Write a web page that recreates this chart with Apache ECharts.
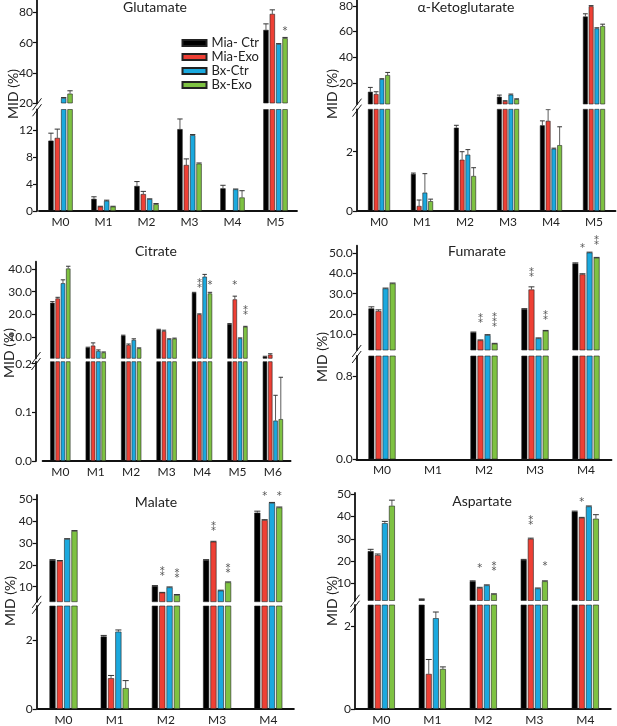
<!DOCTYPE html>
<html><head><meta charset="utf-8">
<script src="https://cdn.jsdelivr.net/npm/echarts@6/dist/echarts.min.js"></script>
<style>html,body{margin:0;padding:0;background:#fff}#c{width:617px;height:726px}</style>
</head><body><div id="c"></div>
<script>
const seriesNames = ['Mia- Ctr', 'Mia-Exo', 'Bx-Ctr', 'Bx-Exo'];
const seriesColors = ['#000000', '#EE4035', '#1BA9DE', '#7EC242'];

// ---------- Glutamate ----------
const gluCategories = ['M0', 'M1', 'M2', 'M3', 'M4', 'M5'];
const gluMiaCtr = [10.4, 1.8, 3.7, 12.1, 3.35, 68.5];
const gluMiaExo = [10.8, 0.65, 2.5, 6.8, null, 79.1];
const gluBxCtr = [23.3, 1.5, 1.75, 11.2, 3.2, 59.1];
const gluBxExo = [26.2, 0.65, 1.0, 7.0, 2.0, 63.0];
const gluMiaCtrErr = [11.5, 2.1, 4.35, 13.6, 3.8, 72.5];
const gluMiaExoErr = [12.1, 0.7, 2.9, 7.7, null, 81.8];
const gluBxCtrErr = [23.6, 1.6, 1.8, 11.3, 3.25, 59.4];
const gluBxExoErr = [28.1, 0.7, 1.1, 7.1, 3.0, 63.5];
const gluStars = [[5, 3, 69, '*']];
const gluUpperTicks = [20, 40, 60, 80];
const gluLowerTicks = [0, 4, 8, 12];

// ---------- alpha-Ketoglutarate ----------
const akgCategories = ['M0', 'M1', 'M2', 'M3', 'M4', 'M5'];
const akgMiaCtr = [13, 1.25, 2.81, 9.1, 2.89, 71.8];
const akgMiaExo = [11.2, 0.17, 1.73, 5.7, 3.04, 79.8];
const akgBxCtr = [22.9, 0.62, 1.9, 10.7, 2.1, 62.5];
const akgBxExo = [26, 0.33, 1.18, 7.2, 2.22, 64.3];
const akgMiaCtrErr = [16.4, 1.28, 2.89, 10.4, 3.04, 73.9];
const akgMiaExoErr = [13, 0.37, 2.0, 6.0, 3.42, 80.3];
const akgBxCtrErr = [23.2, 1.26, 2.07, 11.2, 2.12, 63];
const akgBxExoErr = [28.1, 0.4, 1.46, 7.5, 2.84, 65.8];
const akgStars = [];
const akgUpperTicks = [20, 40, 60, 80];
const akgLowerTicks = [0, 2];

// ---------- Citrate ----------
const citCategories = ['M0', 'M1', 'M2', 'M3', 'M4', 'M5', 'M6'];
const citMiaCtr = [25.1, 5.3, 10.6, 13.2, 29.5, 15.7, 1.3];
const citMiaExo = [27.0, 6.2, 6.5, 12.6, 20.0, 26.6, 2.2];
const citBxCtr = [33.7, 3.8, 8.7, 9.0, 36.6, 9.4, 0.083];
const citBxExo = [40.2, 3.2, 5.0, 9.3, 29.2, 14.5, 0.086];
const citMiaCtrErr = [25.6, 5.5, 10.8, 13.4, 29.7, 15.9, 1.5];
const citMiaExoErr = [27.5, 7.4, 6.9, 13.0, 20.2, 28.0, 2.6];
const citBxCtrErr = [35.2, 4.3, 9.2, 9.2, 37.6, 9.6, 0.135];
const citBxExoErr = [41.2, 3.4, 5.2, 9.5, 29.7, 14.7, 0.172];
const citStars = [[4, 1, 33.7, '**'], [4, 3, 34, '*'], [5, 1, 34, '*'], [5, 3, 21.9, '**']];
const citUpperTicks = [10, 20, 30, 40];
const citLowerTicks = [0, 0.1, 0.2];

// ---------- Fumarate ----------
const fumCategories = ['M0', 'M1', 'M2', 'M3', 'M4'];
const fumMiaCtr = [22.7, null, 10.8, 22.4, 45];
const fumMiaExo = [21.4, null, 6.9, 32.1, 39.6];
const fumBxCtr = [32.6, null, 9.5, 7.9, 50.4];
const fumBxExo = [35.1, null, 5.2, 11.6, 47.8];
const fumMiaCtrErr = [23.5, null, 11.0, 22.6, 45.3];
const fumMiaExoErr = [22, null, 7.1, 33.4, 39.9];
const fumBxCtrErr = [32.8, null, 9.7, 8.1, 50.6];
const fumBxExoErr = [35.3, null, 5.4, 11.8, 48.0];
const fumStars = [[2, 1, 17.8, '**'], [2, 3, 16.9, '***'], [3, 1, 40.8, '**'], [3, 3, 19.4, '**'], [4, 1, 53.8, '*'], [4, 3, 56.6, '**']];
const fumUpperTicks = [10, 20, 30, 40, 50];
const fumLowerTicks = [0, 0.8];

// ---------- Malate ----------
const malCategories = ['M0', 'M1', 'M2', 'M3', 'M4'];
const malMiaCtr = [22.2, 2.12, 10.3, 22.2, 43.9];
const malMiaExo = [21.8, 0.9, 7.3, 30.6, 40.5];
const malBxCtr = [31.8, 2.26, 9.7, 8.2, 48.4];
const malBxExo = [35.5, 0.61, 6.2, 12.0, 46.3];
const malMiaCtrErr = [22.4, 2.15, 10.5, 22.4, 44.6];
const malMiaExoErr = [22.0, 0.98, 7.4, 30.8, 40.7];
const malBxCtrErr = [32.0, 2.31, 9.9, 8.4, 48.6];
const malBxExoErr = [35.7, 0.83, 6.4, 12.2, 46.5];
const malStars = [[2, 1, 16.9, '**'], [2, 3, 16.1, '**'], [3, 1, 37.5, '**'], [3, 3, 18.5, '**'], [4, 1, 52.6, '*'], [4, 3, 52.6, '*']];
const malUpperTicks = [10, 20, 30, 40, 50];
const malLowerTicks = [0, 2];

// ---------- Aspartate ----------
const aspCategories = ['M0', 'M1', 'M2', 'M3', 'M4'];
const aspMiaCtr = [24.5, 3.0, 11.0, 20.6, 42.2];
const aspMiaExo = [22.7, 0.85, 8.0, 30.0, 39.4];
const aspBxCtr = [37.0, 2.2, 9.2, 7.8, 44.5];
const aspBxExo = [44.8, 0.97, 5.2, 11.0, 39.0];
const aspMiaCtrErr = [25.3, 3.1, 11.2, 20.8, 42.4];
const aspMiaExoErr = [23.2, 1.2, 8.3, 30.3, 39.6];
const aspBxCtrErr = [37.8, 2.35, 9.4, 8.0, 44.7];
const aspBxExoErr = [47.3, 1.02, 5.4, 11.2, 40.8];
const aspStars = [[2, 1, 17.9, '*'], [2, 3, 17.5, '**'], [3, 1, 38.4, '**'], [3, 3, 18.7, '*'], [4, 1, 47.3, '*']];
const aspUpperTicks = [10, 20, 30, 40, 50];
const aspLowerTicks = [0, 2];

const FONT = 'Lato, "Open Sans", sans-serif';

const panels = [
  { title: 'Glutamate', cats: gluCategories, values: [gluMiaCtr, gluMiaExo, gluBxCtr, gluBxExo],
    err: [gluMiaCtrErr, gluMiaExoErr, gluBxCtrErr, gluBxExoErr], stars: gluStars,
    uTicks: gluUpperTicks, lTicks: gluLowerTicks, dec: 0,
    L: { left: 39, width: 258, axisX: 37, uTop: 0.5, uBot: 103, lTop: 109.5, lBot: 211, uMin: 20, uMax: 88, lMax: 15, barW: 5.3, tx: 155, ty: 7, mx: 13, my: 94 } },
  { title: 'α-Ketoglutarate', cats: akgCategories, values: [akgMiaCtr, akgMiaExo, akgBxCtr, akgBxExo],
    err: [akgMiaCtrErr, akgMiaExoErr, akgBxCtrErr, akgBxExoErr], stars: akgStars,
    uTicks: akgUpperTicks, lTicks: akgLowerTicks, dec: 0,
    L: { left: 357.5, width: 258, axisX: 357, uTop: 0.5, uBot: 104, lTop: 109.3, lBot: 211, uMin: 3.44, uMax: 84.3, lMax: 3.43, barW: 4.8, tx: 466, ty: 7, mx: 332, my: 94 } },
  { title: 'Citrate', cats: citCategories, values: [citMiaCtr, citMiaExo, citBxCtr, citBxExo],
    err: [citMiaCtrErr, citMiaExoErr, citBxCtrErr, citBxExoErr], stars: citStars,
    uTicks: citUpperTicks, lTicks: citLowerTicks, dec: 1,
    L: { left: 42.6, width: 248, axisX: 36, uTop: 261.7, uBot: 358.3, lTop: 361.7, lBot: 461, uMin: 0.6, uMax: 43.2, lMax: 0.204, barW: 4.4, tx: 156, ty: 251, mx: 9, my: 353 } },
  { title: 'Fumarate', cats: fumCategories, values: [fumMiaCtr, fumMiaExo, fumBxCtr, fumBxExo],
    err: [fumMiaCtrErr, fumMiaExoErr, fumBxCtrErr, fumBxExoErr], stars: fumStars,
    uTicks: fumUpperTicks, lTicks: fumLowerTicks, dec: 1,
    L: { left: 356.5, width: 255, axisX: 356.7, uTop: 245.7, uBot: 350, lTop: 356, lBot: 459.3, uMin: 2.1, uMax: 53.8, lMax: 0.99, barW: 5.9, tx: 477, ty: 251, mx: 322, my: 357 } },
  { title: 'Malate', cats: malCategories, values: [malMiaCtr, malMiaExo, malBxCtr, malBxExo],
    err: [malMiaCtrErr, malMiaExoErr, malBxCtrErr, malBxExoErr], stars: malStars,
    uTicks: malUpperTicks, lTicks: malLowerTicks, dec: 0,
    L: { left: 37.9, width: 256, axisX: 36.7, uTop: 495, uBot: 601.7, lTop: 606, lBot: 709.3, uMin: 3.13, uMax: 52, lMax: 3.01, barW: 6.1, tx: 156, ty: 502, mx: 10, my: 601 } },
  { title: 'Aspartate', cats: aspCategories, values: [aspMiaCtr, aspMiaExo, aspBxCtr, aspBxExo],
    err: [aspMiaCtrErr, aspMiaExoErr, aspBxCtrErr, aspBxExoErr], stars: aspStars,
    uTicks: aspUpperTicks, lTicks: aspLowerTicks, dec: 0,
    L: { left: 355.8, width: 255, axisX: 355, uTop: 493, uBot: 600.5, lTop: 605, lBot: 710, uMin: 2.4, uMax: 50.5, lMax: 2.52, barW: 5.9, tx: 482, ty: 501, mx: 332, my: 601 } }
];

const grid = [], xAxis = [], yAxis = [], series = [], graphic = [];
const AX = '#111';

panels.forEach(p => {
  const L = p.L;
  const step = L.barW * 1.2;
  const segs = [
    { upper: true, top: L.uTop, bot: L.uBot, min: L.uMin, max: L.uMax, ticks: p.uTicks },
    { upper: false, top: L.lTop, bot: L.lBot, min: 0, max: L.lMax, ticks: p.lTicks }
  ];
  segs.forEach(sg => {
    const gi = grid.length;
    const eps = (sg.max - sg.min) * 0.01;
    grid.push({ left: L.left, top: sg.top, width: L.width, height: sg.bot - sg.top });
    xAxis.push({
      type: 'category', gridIndex: gi, data: p.cats, show: !sg.upper,
      axisLine: { lineStyle: { color: AX, width: 1.8 } }, axisTick: { show: false },
      axisLabel: { fontSize: 12, color: '#222', margin: 5, fontFamily: FONT }
    });
    yAxis.push({
      type: 'value', gridIndex: gi, min: sg.min, max: sg.max, offset: L.left - L.axisX,
      splitLine: { show: false },
      axisLine: { show: true, lineStyle: { color: AX, width: 1.8 } },
      axisTick: { show: true, length: 4, customValues: sg.ticks, lineStyle: { color: AX, width: 1.2 } },
      axisLabel: { customValues: sg.ticks, formatter: v => Number(v).toFixed(p.dec), fontSize: 12, color: '#222', margin: 4, fontFamily: FONT }
    });
    p.values.forEach((vals, s) => {
      series.push({
        type: 'bar', name: seriesNames[s], xAxisIndex: gi, yAxisIndex: gi, data: vals,
        barWidth: L.barW, barGap: '20%', clip: true, animation: false,
        itemStyle: { color: seriesColors[s], borderColor: '#222', borderWidth: 0.6 }
      });
    });
    const errData = [];
    p.values.forEach((vals, s) => vals.forEach((v, c) => {
      const e = p.err[s][c];
      if (v != null && e != null && e > v && e > sg.min + eps && v < sg.max) errData.push([c, s, v, e]);
    }));
    series.push({
      type: 'custom', xAxisIndex: gi, yAxisIndex: gi, clip: true, animation: false, silent: true,
      data: errData, encode: { x: 0, y: 2 },
      renderItem: (params, api) => {
        const b = api.coord([api.value(0), api.value(2)]);
        const t = api.coord([api.value(0), api.value(3)]);
        const x = b[0] + (api.value(1) - 1.5) * step;
        const hw = L.barW * 0.5;
        return { type: 'group', children: [
          { type: 'line', shape: { x1: x, y1: b[1], x2: x, y2: t[1] }, style: { stroke: '#333', lineWidth: 0.8 } },
          { type: 'line', shape: { x1: x - hw, y1: t[1], x2: x + hw, y2: t[1] }, style: { stroke: '#333', lineWidth: 1 } }
        ] };
      }
    });
    if (sg.upper && p.stars.length) {
      const st = p.stars;
      series.push({
        type: 'custom', xAxisIndex: gi, yAxisIndex: gi, clip: false, animation: false, silent: true,
        data: st.map(s => [s[0], s[1], s[2]]), encode: { x: 0, y: 2 },
        renderItem: (params, api) => {
          const s = st[params.dataIndex];
          const c = api.coord([s[0], s[2]]);
          const x = c[0] + (s[1] - 1.5) * step;
          const txt = s[3].split('').join('\n');
          return { type: 'text', x: x, y: c[1] + 2.5,
            style: { text: txt, fontSize: 10, lineHeight: 5, fill: '#555', fontFamily: 'DejaVu Sans, sans-serif',
              align: 'center', verticalAlign: 'middle', textAlign: 'center', textVerticalAlign: 'middle' } };
        }
      });
    }
  });
  // title
  graphic.push({ type: 'text', x: L.tx, y: L.ty, silent: true,
    style: { text: p.title, fontSize: 14, fill: '#222', fontFamily: FONT, align: 'center', verticalAlign: 'middle', textAlign: 'center', textVerticalAlign: 'middle' } });
  // y axis title
  graphic.push({ type: 'text', x: L.mx, y: L.my, rotation: Math.PI / 2, silent: true,
    style: { text: 'MID (%)', fontSize: 14, fill: '#222', fontFamily: FONT, align: 'center', verticalAlign: 'middle', textAlign: 'center', textVerticalAlign: 'middle' } });
  // break marks
  const gc = (L.uBot + L.lTop) / 2 + 1;
  [-3, 3].forEach(d => {
    graphic.push({ type: 'line', silent: true,
      shape: { x1: L.axisX - 4.5, y1: gc + d + 6, x2: L.axisX + 4.5, y2: gc + d - 6 },
      style: { stroke: '#222', lineWidth: 1 } });
  });
});

const chart = echarts.init(document.getElementById('c'), null, { renderer: 'canvas' });
chart.setOption({
  backgroundColor: '#fff',
  animation: false,
  legend: {
    data: seriesNames.map(n => ({ name: n, icon: 'rect' })),
    orient: 'vertical', left: 176.5, top: 31.5, itemWidth: 24, itemHeight: 6, itemGap: 1,
    selectedMode: false,
    textStyle: { fontSize: 13, color: '#222', fontFamily: FONT, lineHeight: 13 }
  },
  grid, xAxis, yAxis, series, graphic
});
</script>
</body></html>
